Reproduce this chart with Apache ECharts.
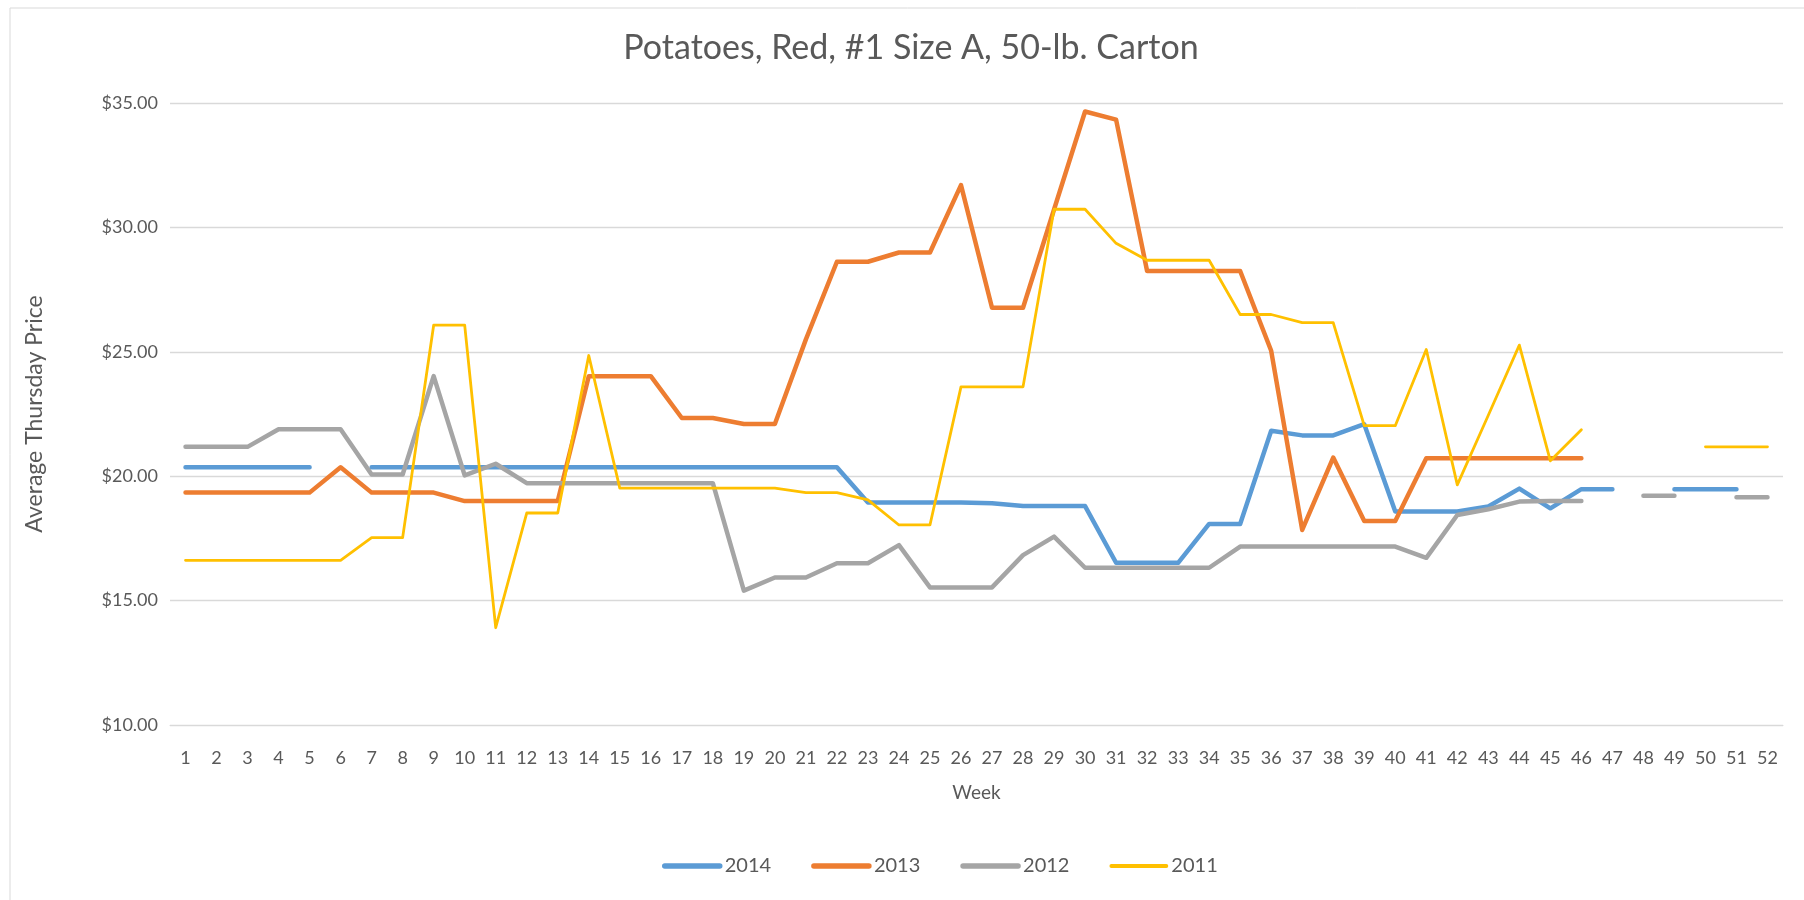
<!DOCTYPE html>
<html>
<head>
<meta charset="utf-8">
<script src="https://cdn.jsdelivr.net/npm/echarts@6/dist/echarts.min.js"></script>
<style>
  html, body { margin: 0; padding: 0; background: #fff; }
  #chart { width: 1804px; height: 900px; }
</style>
</head>
<body>
<div id="chart"></div>
<script>
// weeks 1..52
var weeks = [];
for (var i = 1; i <= 52; i++) weeks.push(String(i));

var y2014 = [20.36, 20.36, 20.36, 20.36, 20.36, null, 20.36, 20.36, 20.36, 20.36,
  20.36, 20.36, 20.36, 20.36, 20.36, 20.36, 20.36, 20.36, 20.36, 20.36,
  20.36, 20.36, 18.94, 18.94, 18.94, 18.94, 18.91, 18.8, 18.8, 18.8,
  16.52, 16.52, 16.52, 18.08, 18.08, 21.83, 21.64, 21.64, 22.09, 18.58,
  18.58, 18.58, 18.78, 19.5, 18.71, 19.48, 19.48, null, 19.48, 19.48,
  19.48, null];

var y2013 = [19.34, 19.34, 19.34, 19.34, 19.34, 20.36, 19.34, 19.34, 19.34, 19.0,
  19.0, 19.0, 19.0, 24.02, 24.02, 24.02, 22.34, 22.34, 22.1, 22.1,
  25.5, 28.62, 28.62, 28.99, 28.99, 31.7, 26.77, 26.77, 30.72, 34.66,
  34.33, 28.25, 28.25, 28.25, 28.25, 25.04, 17.84, 20.75, 18.2, 18.2,
  20.72, 20.72, 20.72, 20.72, 20.72, 20.72, null, null, null, null,
  null, null];

var y2012 = [21.18, 21.18, 21.18, 21.89, 21.89, 21.89, 20.07, 20.07, 24.02, 20.03,
  20.5, 19.72, 19.72, 19.72, 19.72, 19.72, 19.72, 19.72, 15.4, 15.93,
  15.93, 16.5, 16.5, 17.23, 15.53, 15.53, 15.53, 16.83, 17.57, 16.32,
  16.32, 16.32, 16.32, 16.32, 17.17, 17.17, 17.17, 17.17, 17.17, 17.17,
  16.72, 18.44, 18.67, 18.98, 19.0, 19.0, null, 19.21, 19.21, null,
  19.15, 19.15];

var y2011 = [16.62, 16.62, 16.62, 16.62, 16.62, 16.62, 17.53, 17.53, 26.07, 26.07,
  13.91, 18.52, 18.52, 24.85, 19.52, 19.52, 19.52, 19.52, 19.52, 19.52,
  19.34, 19.34, 19.05, 18.04, 18.04, 23.59, 23.59, 23.59, 30.73, 30.73,
  29.36, 28.68, 28.68, 28.68, 26.5, 26.5, 26.17, 26.17, 22.03, 22.03,
  25.09, 19.65, 22.45, 25.27, 20.62, 21.87, null, null, null, 21.18,
  21.18, 21.18];

var names = ['2014', '2013', '2012', '2011'];
var colors = ['#5B9BD5', '#ED7D31', '#A5A5A5', '#FFC000'];
var widths = [4.5, 4.5, 4.5, 2.8];
var datas = [y2014, y2013, y2012, y2011];

var FONT = 'Lato, "Open Sans", sans-serif';
var TXT = '#595959';

var series = [];
var legendData = [];
for (var k = 0; k < datas.length; k++) {
  series.push({
    name: names[k],
    type: 'line',
    data: datas[k],
    symbol: 'none',
    connectNulls: false,
    color: colors[k],
    lineStyle: { color: colors[k], width: widths[k], cap: 'round', join: 'round' },
    animation: false
  });
  legendData.push({
    name: names[k],
    itemStyle: { opacity: 0 },
    lineStyle: { color: colors[k], width: widths[k] + 1, cap: 'round' }
  });
}

var chart = echarts.init(document.getElementById('chart'));
chart.setOption({
  backgroundColor: '#fff',
  textStyle: { fontFamily: FONT },
  graphic: [{
    type: 'rect',
    shape: { x: 10, y: 8, width: 1820, height: 920 },
    style: { fill: 'none', stroke: '#D9D9D9', lineWidth: 1 },
    silent: true
  }],
  title: {
    text: 'Potatoes, Red, #1 Size A, 50-lb. Carton',
    left: 911,
    textAlign: 'center',
    top: 31,
    padding: 0,
    textStyle: { fontFamily: FONT, fontSize: 34, fontWeight: 'normal', color: TXT }
  },
  legend: {
    data: legendData,
    left: 657,
    top: 851,
    itemWidth: 55,
    itemHeight: 14,
    itemGap: 40,
    textStyle: { fontFamily: FONT, fontSize: 20, color: TXT }
  },
  grid: { left: 170, right: 21, top: 103, bottom: 175 },
  xAxis: {
    type: 'category',
    data: weeks,
    boundaryGap: true,
    name: 'Week',
    nameLocation: 'middle',
    nameGap: 58,
    nameTextStyle: { fontFamily: FONT, fontSize: 19, color: TXT },
    axisLine: { show: true, lineStyle: { color: '#D9D9D9' } },
    axisTick: { show: false },
    axisLabel: { interval: 0, margin: 24, fontFamily: FONT, fontSize: 18, color: TXT }
  },
  yAxis: {
    type: 'value',
    min: 10,
    max: 35,
    interval: 5,
    name: 'Average Thursday Price',
    nameLocation: 'middle',
    nameGap: 124,
    nameTextStyle: { fontFamily: FONT, fontSize: 23, color: TXT },
    axisLine: { show: false },
    axisTick: { show: false },
    splitLine: { lineStyle: { color: '#D9D9D9', width: 1.3 } },
    axisLabel: {
      margin: 12,
      fontFamily: FONT,
      fontSize: 18,
      color: TXT,
      formatter: function (v) { return '$' + v.toFixed(2); }
    }
  },
  series: series
});
</script>
</body>
</html>
